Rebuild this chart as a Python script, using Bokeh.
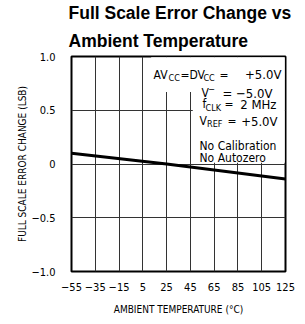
from bokeh.plotting import figure
from bokeh.models import Label, FixedTicker, Range1d, Title
from bokeh.embed import file_html
from bokeh.resources import INLINE

temps = [-55, 25, 125]
err_change = [0.10, 0.0, -0.14]
x_ticks = [-55, -35, -15, 5, 25, 45, 65, 85, 105, 125]
y_ticks = [-1.0, -0.5, 0, 0.5, 1.0]
y_tick_labels = {-1.0: "\u22121.0", -0.5: "\u22120.5", 0: "0", 0.5: "0.5", 1.0: "1.0"}
title_lines = ["Full Scale Error Change vs", "Ambient Temperature"]

FONT = "DejaVu Sans Condensed"

p = figure(output_backend="svg", toolbar_location=None, title=None,
           frame_width=214, frame_height=215,
           min_border_left=71, min_border_right=12, min_border_top=0, min_border_bottom=44,
           x_range=Range1d(-55, 125), y_range=Range1d(-1.0, 1.0))

# two title lines; the first one added sits nearest the frame
for text, standoff in ((title_lines[1], 12), (title_lines[0], 0)):
    p.add_layout(Title(text=text, text_font="Liberation Sans", text_font_size="17.5px",
                       text_font_style="bold", text_color="black", align="left",
                       offset=-3, standoff=standoff, text_line_height=1.0), "above")

p.xaxis.ticker = FixedTicker(ticks=x_ticks)
p.yaxis.ticker = FixedTicker(ticks=y_ticks)
p.yaxis.major_label_overrides = y_tick_labels
p.xaxis.major_label_overrides = {t: str(t).replace("-", "\u2212") for t in x_ticks}
for ax in (p.xaxis[0], p.yaxis[0]):
    ax.axis_line_color = None
    ax.major_tick_line_color = None
    ax.minor_tick_line_color = None
    ax.major_label_text_font = FONT
    ax.major_label_text_font_size = "11px"
    ax.major_label_text_color = "black"
    ax.axis_label_text_font = FONT
    ax.axis_label_text_font_size = "10px"
    ax.axis_label_text_font_style = "normal"
    ax.axis_label_text_color = "black"
p.xaxis.axis_label = "AMBIENT TEMPERATURE (\u00b0C)"
p.yaxis.axis_label = "FULL SCALE ERROR CHANGE (LSB)"
p.xaxis.major_label_standoff = 5
p.yaxis.major_label_standoff = 10
p.xaxis.axis_label_standoff = 10
p.yaxis.axis_label_standoff = 0

p.grid.grid_line_color = "#333333"
p.grid.grid_line_width = 1
p.grid.grid_line_alpha = 1
p.outline_line_color = "black"
p.outline_line_width = 2
p.outline_line_alpha = 1

# white backing behind the conditions text (hides the grid there)
p.quad(left=[12, 47], right=[124.4, 124.4], bottom=[0.67, 0.012], top=[0.993, 0.67],
       fill_color="white", line_color=None)

p.line(temps, err_change, line_color="black", line_width=3)


def lab(x, y, text, size="12px", align="left"):
    p.add_layout(Label(x=x, y=y, text=text, text_font=FONT, text_font_size=size,
                       text_color="black", text_align=align, text_baseline="alphabetic"))

# line 1: AVcc = DVcc = +5.0V
lab(14.0, 0.83, "AV")
lab(26.6, 0.80, "CC", "9px")
lab(36.7, 0.83, "=")
lab(44.2, 0.83, "DV")
lab(56.0, 0.80, "CC", "9px")
lab(69.5, 0.83, "=")
lab(121.6, 0.83, "+5.0V", "13px", align="right")
# line 2: V- = -5.0V
lab(54.3, 0.66, "V")
lab(60.0, 0.70, "\u2212", "9px")
lab(114, 0.66, "= \u22125.0V", "13px", align="right")
# line 3: fCLK = 2 MHz
lab(55.2, 0.555, "f")
lab(57.7, 0.525, "CLK", "9px")
lab(73.7, 0.555, "=")
lab(117.4, 0.555, "2 MHz", "13px", align="right")
# line 4: VREF = +5.0V
lab(52.7, 0.40, "V")
lab(59.0, 0.37, "REF", "9px")
lab(76.2, 0.40, "=")
lab(118.3, 0.40, "+5.0V", "13px", align="right")
# lines 5,6
lab(52.7, 0.165, "No Calibration")
lab(52.7, 0.053, "No Autozero")

open("out.html", "w").write(file_html(p, INLINE))
